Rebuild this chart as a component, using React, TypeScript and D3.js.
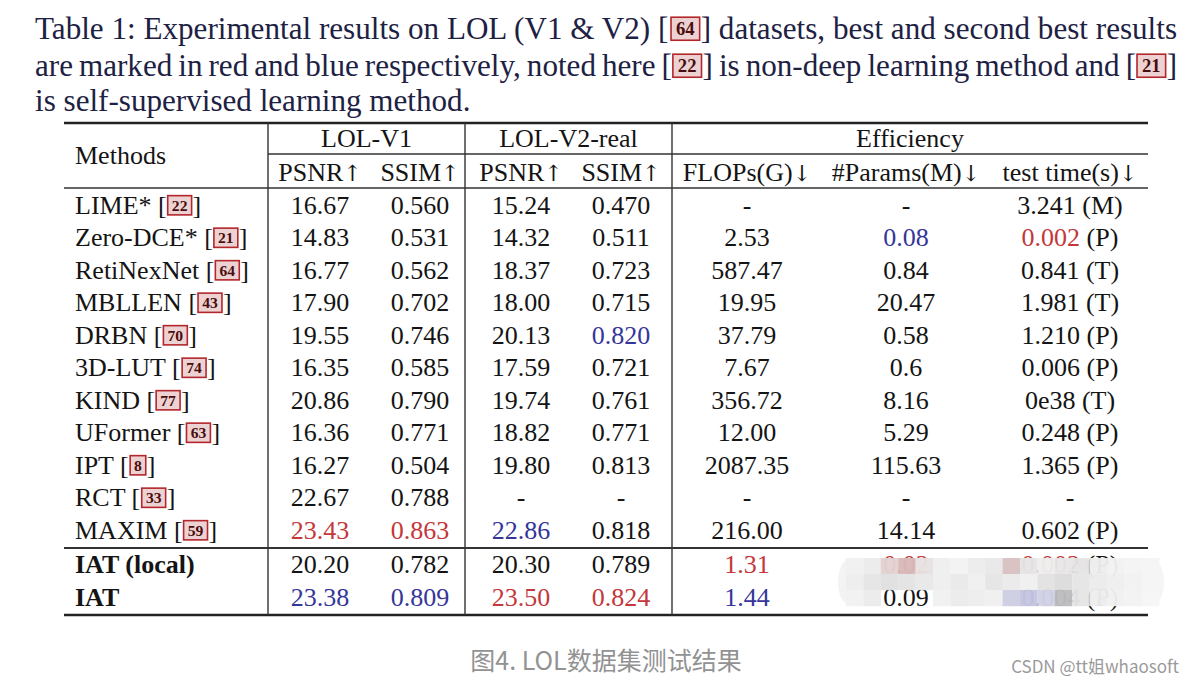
import React from "react";
import * as d3 from "d3";

// table rows (baselines)
const methods = ["LIME*", "Zero-DCE*", "RetiNexNet", "MBLLEN", "DRBN", "3D-LUT", "KIND", "UFormer", "IPT", "RCT", "MAXIM"];
const refs = ["22", "21", "64", "43", "70", "74", "77", "63", "8", "33", "59"];
const psnrV1 = ["16.67", "14.83", "16.77", "17.90", "19.55", "16.35", "20.86", "16.36", "16.27", "22.67", "23.43"];
const ssimV1 = ["0.560", "0.531", "0.562", "0.702", "0.746", "0.585", "0.790", "0.771", "0.504", "0.788", "0.863"];
const psnrV2 = ["15.24", "14.32", "18.37", "18.00", "20.13", "17.59", "19.74", "18.82", "19.80", "-", "22.86"];
const ssimV2 = ["0.470", "0.511", "0.723", "0.715", "0.820", "0.721", "0.761", "0.771", "0.813", "-", "0.818"];
const flops = ["-", "2.53", "587.47", "19.95", "37.79", "7.67", "356.72", "12.00", "2087.35", "-", "216.00"];
const params = ["-", "0.08", "0.84", "20.47", "0.58", "0.6", "8.16", "5.29", "115.63", "-", "14.14"];
const testTime = ["3.241", "0.002", "0.841", "1.981", "1.210", "0.006", "0e38", "0.248", "1.365", "-", "0.602"];
const device = ["(M)", "(P)", "(T)", "(T)", "(P)", "(P)", "(T)", "(P)", "(P)", "", "(P)"];

// our rows
const oursMethods = ["IAT (local)", "IAT"];
const oursPsnrV1 = ["20.20", "23.38"];
const oursSsimV1 = ["0.782", "0.809"];
const oursPsnrV2 = ["20.30", "23.50"];
const oursSsimV2 = ["0.789", "0.824"];
const oursFlops = ["1.31", "1.44"];
const oursParams = ["0.02", "0.09"];
const oursTime = ["0.002", "0.004"];
const oursDevice = ["(P)", "(P)"];

// best (red) and second best (blue)
const best = ["Zero-DCE*|time", "MAXIM|psnrV1", "MAXIM|ssimV1", "IAT (local)|flops", "IAT (local)|params", "IAT (local)|time", "IAT|psnrV2", "IAT|ssimV2"];
const second = ["Zero-DCE*|params", "DRBN|ssimV2", "MAXIM|psnrV2", "IAT|psnrV1", "IAT|ssimV1", "IAT|flops", "IAT|time"];

const groups = ["LOL-V1", "LOL-V2-real", "Efficiency"];
const columns = ["psnrV1", "ssimV1", "psnrV2", "ssimV2", "flops", "params", "time"];
const colLabels = ["PSNR", "SSIM", "PSNR", "SSIM", "FLOPs(G)", "#Params(M)", "test time(s)"];
const colArrows = ["↑", "↑", "↑", "↑", "↓", "↓", "↓"];

const caption = "图4. LOL数据集测试结果";
const watermark = "CSDN @tt姐whaosoft";

const titleLines: (string | { ref: string })[][] = [
  ["Table 1: Experimental results on LOL (V1 & V2) [", { ref: "64" }, "] datasets, best and second best results"],
  ["are marked in red and blue respectively, noted here [", { ref: "22" }, "] is non-deep learning method and [", { ref: "21" }, "]"],
  ["is self-supervised learning method."],
];

const SERIF = "'Liberation Serif', 'Times New Roman', serif";
const ARROWF = "'DejaVu Serif', 'DejaVu Sans', serif";
const RED = "#c4373a";
const BLUE = "#35369a";
const INK = "#141414";

const canvas = typeof document !== "undefined" ? document.createElement("canvas") : null;
const measure = (s: string, fs: number, weight = "normal") => {
  const ctx = canvas!.getContext("2d")!;
  ctx.font = `${weight} ${fs}px ${SERIF}`;
  return ctx.measureText(s).width;
};
const boxW = (ref: string, fs: number) => fs * (0.28 + 0.32 * ref.length);
const spaces = (s: string) => (s.match(/ /g) || []).length;

const Rich = ({ segs, x, y, fs, color, ws = 0 }: any) => {
  let cx = x;
  const out: any[] = [];
  segs.forEach((s: any, i: number) => {
    if (typeof s === "string") {
      out.push(
        <text key={i} x={cx} y={y} fontSize={fs} fontFamily={SERIF} fill={color} style={{ whiteSpace: "pre", wordSpacing: ws }}>
          {s}
        </text>
      );
      cx += measure(s, fs) + spaces(s) * ws;
    } else {
      const w = boxW(s.ref, fs);
      out.push(
        <g key={i}>
          <rect x={cx + 1} y={y - fs * 0.7} width={w} height={fs * 0.74} fill="#ecd2d2" stroke="#b3262b" strokeWidth={1.6} />
          <text x={cx + 1 + w / 2} y={y - fs * 0.12} fontSize={fs * 0.6} fontFamily={SERIF} fontWeight="bold" fill="#4a0c0c" textAnchor="middle">
            {s.ref}
          </text>
        </g>
      );
      cx += w + 2;
    }
  });
  return <g>{out}</g>;
};

const segWidth = (segs: any[], fs: number) =>
  segs.reduce((a, s) => a + (typeof s === "string" ? measure(s, fs) : boxW(s.ref, fs) + 2), 0);
const segSpaces = (segs: any[]) => segs.reduce((a, s) => a + (typeof s === "string" ? spaces(s) : 0), 0);

export default function App() {
  const left = 64;
  const right = 1148;
  const fs = 26;

  const x = d3.scaleOrdinal<string, number>().domain(columns).range([320, 420, 521, 621, 747, 906, 1070]);
  const vlines = [268, 465, 672];
  const groupX = d3.scaleOrdinal<string, number>().domain(groups).range([
    (vlines[0] + vlines[1]) / 2,
    (vlines[1] + vlines[2]) / 2,
    (vlines[2] + right) / 2,
  ]);
  const y = d3.scaleLinear().domain([0, methods.length - 1]).range([205, 530]);
  const y2 = d3.scaleLinear().domain([0, 1]).range([564, 597]);
  const off = fs * 0.34;

  // title: size fitted to the first line, the first two lines justified (word spacing may shrink)
  const lineW = 1142;
  const tfs = 28 * (lineW / segWidth(titleLines[0], 28));
  const justify = (l: any[], i: number) =>
    i < 2 ? (lineW - segWidth(l, tfs)) / Math.max(1, segSpaces(l)) : 0;

  const colorOf = (m: string, c: string) =>
    best.includes(`${m}|${c}`) ? RED : second.includes(`${m}|${c}`) ? BLUE : INK;

  const row = (m: string, vals: string[], dev: string, cy: number, key: string) => (
    <g key={key}>
      {columns.slice(0, 6).map((c, j) => (
        <text key={c} x={x(c)} y={cy + off} textAnchor="middle" fontSize={fs} fontFamily={SERIF} fill={colorOf(m, c)}>
          {vals[j]}
        </text>
      ))}
      <text x={x("time")} y={cy + off} textAnchor="middle" fontSize={fs} fontFamily={SERIF} fill={INK} style={{ whiteSpace: "pre" }}>
        <tspan fill={colorOf(m, "time")}>{vals[6]}</tspan>
        {dev ? <tspan>{" " + dev}</tspan> : null}
      </text>
    </g>
  );

  const mosaic = [
    ["#f1f1f1", "#ececec", "#e3d2d2", "#d9b9b9", "#e8e2e2", "#efefef", "#f3f3f3", "#ededed", "#e9e9e9", "#d9c1c1", "#e6e6e6", "#eeeeee", "#e8e8e8", "#e4e4e4", "#eeeeee", "#f2f2f2", "#f4f4f4", "#f5f5f5"],
    ["#eeeeee", "#e6e6e6", "#e0e0e0", "#e3e3e3", "#e9e9e9", "#efefef", "#eaeaea", "#f0f0f0", "#e5e5e5", "#ebebeb", "#f0f0f0", "#e2e2e2", "#dcdcdc", "#e6e6e6", "#ececec", "#efefef", "#f2f2f2", "#f5f5f5"],
    ["#f2f2f2", "#ececec", null, null, null, "#f1f1f1", "#ececec", "#eeeeee", "#f0f0f0", "#cfcfe3", "#c5c5e0", "#d2d2e6", "#bdbdbd", "#e5e5e5", "#eeeeee", "#f1f1f1", "#f3f3f3", "#f6f6f6"],
  ];

  return (
    <svg width={1194} height={684} style={{ position: "absolute", left: 0, top: 0, background: "#fff" }}>
      <rect width={1194} height={684} fill="#fff" />
      {titleLines.map((segs, i) => (
        <Rich key={i} segs={segs} x={35} y={[39, 76, 111][i]} fs={tfs} color="#1d2143" ws={justify(segs, i)} />
      ))}

      {/* rules */}
      <line x1={left} x2={right} y1={123} y2={123} stroke="#222" strokeWidth={2.6} />
      <line x1={vlines[0]} x2={right} y1={154} y2={154} stroke="#333" strokeWidth={1.5} />
      <line x1={left} x2={right} y1={188} y2={188} stroke="#333" strokeWidth={1.6} />
      <line x1={left} x2={right} y1={548} y2={548} stroke="#333" strokeWidth={2.2} />
      <line x1={left} x2={right} y1={615} y2={615} stroke="#222" strokeWidth={2.6} />
      {vlines.map((v) => (
        <line key={v} x1={v} x2={v} y1={123} y2={615} stroke="#333" strokeWidth={1.4} />
      ))}

      {/* headers */}
      <text x={75} y={155 + off} fontSize={fs} fontFamily={SERIF} fill={INK}>Methods</text>
      {groups.map((g) => (
        <text key={g} x={groupX(g)} y={138 + off} textAnchor="middle" fontSize={fs} fontFamily={SERIF} fill={INK}>{g}</text>
      ))}
      {columns.map((c, j) => (
        <text key={c} x={x(c)} y={172 + off} textAnchor="middle" fontSize={fs} fontFamily={SERIF} fill={INK}>
          {colLabels[j]}
          <tspan fontFamily={ARROWF} fontSize={fs * 0.85} fill={INK}>{colArrows[j]}</tspan>
        </text>
      ))}

      {/* baselines */}
      {methods.map((m, i) => (
        <g key={m}>
          <Rich segs={[m + " [", { ref: refs[i] }, "]"]} x={75} y={y(i) + off} fs={fs} color={INK} />
          {row(m, [psnrV1[i], ssimV1[i], psnrV2[i], ssimV2[i], flops[i], params[i], testTime[i]], device[i], y(i), "r" + i)}
        </g>
      ))}

      {/* ours */}
      {oursMethods.map((m, i) => (
        <g key={m}>
          <text x={75} y={y2(i) + off} fontSize={fs} fontFamily={SERIF} fontWeight="bold" fill={INK}>{m}</text>
          {row(m, [oursPsnrV1[i], oursSsimV1[i], oursPsnrV2[i], oursSsimV2[i], oursFlops[i], oursParams[i], oursTime[i]], oursDevice[i], y2(i), "o" + i)}
        </g>
      ))}

      {/* pixelated blur over the lower right */}
      <g opacity={0.96}>
        <ellipse cx={848} cy={582} rx={10} ry={22} fill="#f3f3f3" />
        <ellipse cx={1156} cy={582} rx={8} ry={20} fill="#f5f5f5" />
        {mosaic.map((r, ri) =>
          r.map((c, ci) =>
            c ? <rect key={ri + "-" + ci} x={846 + ci * 17.4} y={558 + ri * 16} width={17.6} height={16.2} fill={c} /> : null
          )
        )}
      </g>

      <text x={606} y={670} textAnchor="middle" fontSize={25} fontFamily="'Noto Sans CJK SC', 'Noto Sans', sans-serif" fill="#929292">
        {caption}
      </text>
      <text x={1179} y={673} textAnchor="end" fontSize={17} fontFamily="'Noto Sans CJK SC', 'Noto Sans', sans-serif" fill="#9a9a9a">
        {watermark}
      </text>
    </svg>
  );
}
